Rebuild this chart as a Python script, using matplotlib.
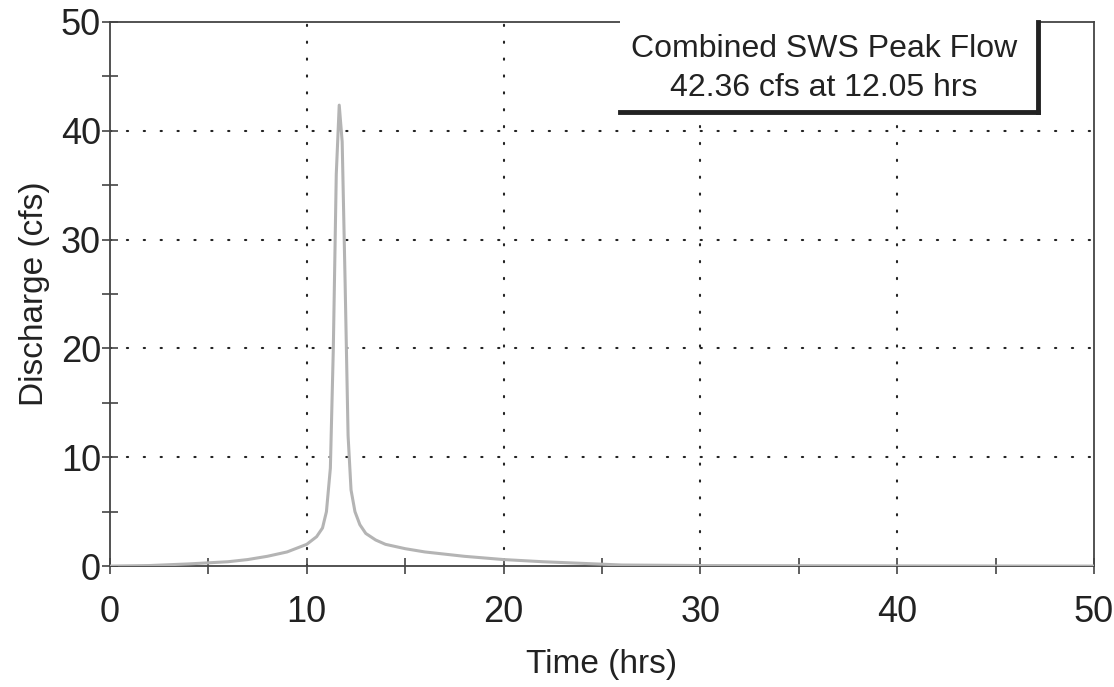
"""Combined SWS hydrograph: discharge vs time with the peak-flow callout."""

import matplotlib
matplotlib.use("Agg")
import matplotlib.pyplot as plt
from matplotlib.patches import Rectangle
from matplotlib.lines import Line2D

time_hrs = [0, 2, 4, 6, 7, 8, 9, 10, 10.5, 10.8, 11.0, 11.2, 11.35, 11.5,
            11.65, 11.8, 11.95, 12.1, 12.25, 12.45, 12.7, 13.0, 13.5, 14,
            15, 16, 18, 20, 22, 24, 26, 30, 40, 50]
flow_cfs = [0.0, 0.05, 0.2, 0.4, 0.6, 0.9, 1.3, 2.0, 2.7, 3.5, 5.0, 9.0,
            20.0, 36.0, 42.36, 39.0, 26.0, 12.0, 7.0, 5.0, 3.8, 3.0, 2.4,
            2.0, 1.6, 1.3, 0.9, 0.6, 0.4, 0.25, 0.1, 0.05, 0.02, 0.0]

x_major = [0, 10, 20, 30, 40, 50]
x_minor = [5, 15, 25, 35, 45]
y_major = [0, 10, 20, 30, 40, 50]
y_minor = [5, 15, 25, 35, 45]
grid_x = [10, 20, 30, 40]
grid_y = [10, 20, 30, 40]

callout = "Combined SWS Peak Flow\n42.36 cfs at 12.05 hrs"

plt.rcParams["font.family"] = ["Liberation Sans", "DejaVu Sans"]

fig = plt.figure(figsize=(11.14, 6.87), dpi=100)
ax = fig.add_axes([0.0987, 0.176, 0.8833, 0.792])

ax.plot(time_hrs, flow_cfs, color="#b4b4b4", lw=2.2, zorder=3)

dot = (0, (0.6, 7.5))
for gx in grid_x:
    ax.axvline(gx, color="#222222", lw=1.5, ls=dot, dash_capstyle="round", zorder=1)
for gy in grid_y:
    ax.axhline(gy, color="#222222", lw=1.5, ls=dot, dash_capstyle="round", zorder=1)

ax.set_xlim(0, 50)
ax.set_ylim(0, 50)
ax.set_xticks(x_major)
ax.set_xticks(x_minor, minor=True)
ax.set_yticks(y_major)
ax.set_yticks(y_minor, minor=True)
ax.tick_params(which="both", direction="inout", length=11, width=1.2,
               color="#444444", labelsize=26, labelcolor="#222222")
ax.tick_params(axis="x", pad=15)
ax.tick_params(axis="y", pad=1)

for side in ("left", "bottom", "top", "right"):
    ax.spines[side].set_color("#444444")
    ax.spines[side].set_linewidth(1.3)

ax.set_xlabel("Time (hrs)", fontsize=24, labelpad=14, color="#222222")
ax.set_ylabel("Discharge (cfs)", fontsize=24, labelpad=8, color="#222222")

# callout box with a heavy drop shadow on right and bottom
bx0, bx1, by0, by1 = 0.518, 0.943, 0.835, 1.003
ax.add_patch(Rectangle((bx0, by0), bx1 - bx0, by1 - by0, transform=ax.transAxes,
                       facecolor="white", edgecolor="none", zorder=5,
                       clip_on=False))
ax.add_line(Line2D([bx0, bx1], [by0, by0], transform=ax.transAxes,
                   color="#222222", lw=3.5, zorder=6, clip_on=False))
ax.add_line(Line2D([bx1, bx1], [by0, 1.0], transform=ax.transAxes,
                   color="#222222", lw=3.5, zorder=6, clip_on=False))
ax.text((bx0 + bx1) / 2 - 0.005, (by0 + by1) / 2 - 0.004, callout,
        transform=ax.transAxes, ha="center", va="center", fontsize=23,
        linespacing=1.38, color="#222222", zorder=7)

fig.savefig("out.png", dpi=100)
